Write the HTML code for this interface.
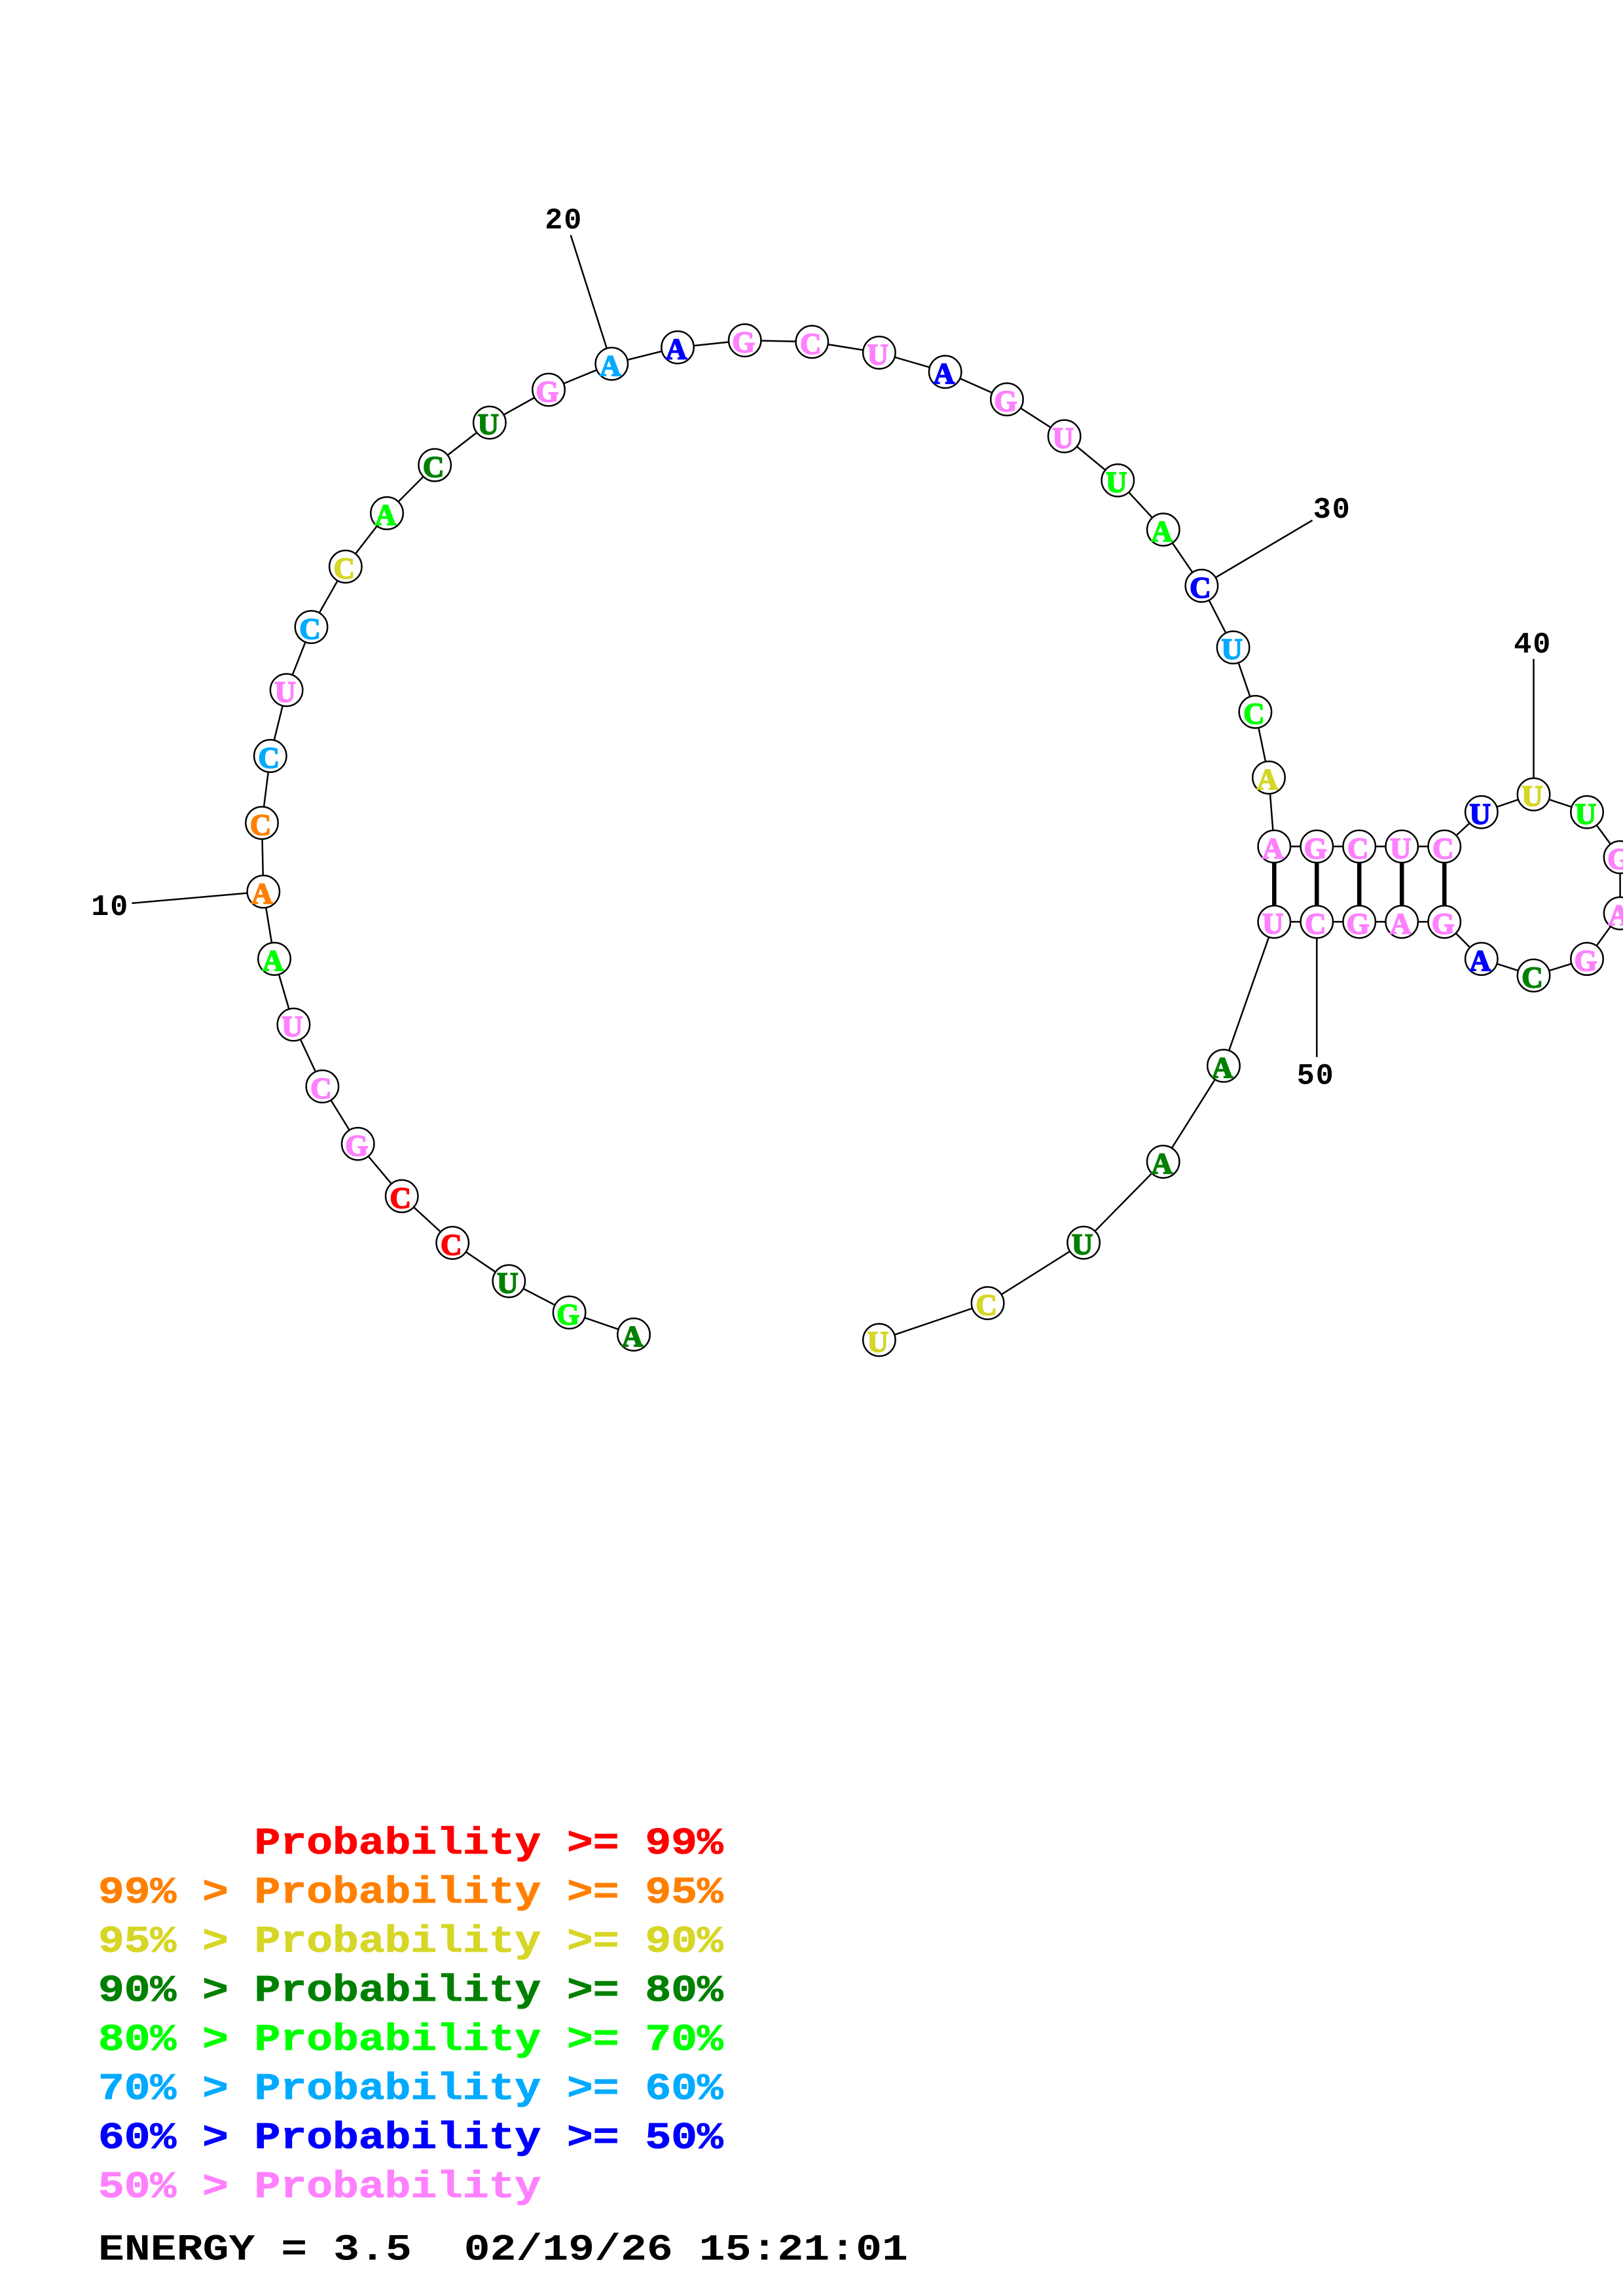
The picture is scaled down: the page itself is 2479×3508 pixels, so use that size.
<!DOCTYPE html>
<html><head><meta charset="utf-8"><style>
html,body{margin:0;padding:0;background:#fff;width:2479px;height:3508px;overflow:hidden}
svg{display:block}
.n circle{fill:#fff;stroke:#000;stroke-width:2.5}
.n text{font:bold 45px "Liberation Serif",serif;text-anchor:middle;stroke-width:1.8;paint-order:stroke}
.l{font:bold 45px "Liberation Mono",monospace;text-anchor:middle;fill:#000;letter-spacing:2px}
.g{font:bold 66.3px "Liberation Mono",monospace;white-space:pre}
.k{fill:#008000;stroke:#008000}.g1{fill:#0f0;stroke:#0f0}.r{fill:#f00;stroke:#f00}.p{fill:#ff80ff;stroke:#ff80ff}
.o{fill:#ff8000;stroke:#ff8000}.s{fill:#00aaff;stroke:#00aaff}.y{fill:#d6d626;stroke:#d6d626}.b{fill:#00f;stroke:#00f}
.g.k,.g.g1,.g.r,.g.p,.g.o,.g.s,.g.y,.g.b{stroke-width:1}
</style></head><body>
<svg xmlns="http://www.w3.org/2000/svg" width="2479" height="3508" viewBox="0 0 2479 3508">
<rect width="2479" height="3508" fill="#fff"/>
<polyline fill="none" stroke="#000" stroke-width="2.5" points="968,2039 869.6,2005.3 777.3,1957.4 691.2,1898.9 613.7,1827.6 546.7,1747.7 492.4,1659.9 448.4,1565.5 419,1465 402.3,1362.3 400,1257.3 412.8,1155 437.6,1054.3 475.5,958 527.8,865.7 591,784.1 664.1,710.6 747.8,645.7 838,595.5 934.3,555.8 1035,530.7 1137.7,520 1240.3,522.3 1342.9,538.8 1443.7,568.2 1538,610.2 1625.7,666.5 1707.3,733.9 1776.8,809.2 1835.4,895 1883.6,989.2 1917.4,1087.7 1938,1188 1946.3,1293.3 2011.3,1293.3 2076.2,1293.3 2141.2,1293.3 2206.2,1293.3 2262.8,1240.8 2342.5,1213.7 2424,1240.8 2474.6,1309.7 2474.6,1395.4 2424,1465.1 2342.5,1490.4 2262.8,1465.1 2206.2,1408.4 2141.2,1408.4 2076.2,1408.4 2011.3,1408.4 1946.3,1408.4 1869,1628.4 1776.7,1775 1655.1,1898.7 1508.6,1991 1342.9,2047.3"/>
<g stroke="#000" stroke-width="2.5">
<line x1="201.3" y1="1380" x2="402.3" y2="1362.3"/>
<line x1="871.7" y1="359.3" x2="934.3" y2="555.8"/>
<line x1="2004.5" y1="795" x2="1835.4" y2="895"/>
<line x1="2342.5" y1="1006.7" x2="2342.5" y2="1213.7"/>
<line x1="2011.3" y1="1615" x2="2011.3" y2="1408.4"/>
</g>
<g stroke="#000" stroke-width="6.5">
<line x1="1946.3" y1="1293.3" x2="1946.3" y2="1408.4"/>
<line x1="2011.3" y1="1293.3" x2="2011.3" y2="1408.4"/>
<line x1="2076.2" y1="1293.3" x2="2076.2" y2="1408.4"/>
<line x1="2141.2" y1="1293.3" x2="2141.2" y2="1408.4"/>
<line x1="2206.2" y1="1293.3" x2="2206.2" y2="1408.4"/>
</g>
<g class="n">
<circle cx="968" cy="2039" r="24.7"/><text class="k" x="966" y="2057">A</text>
<circle cx="869.6" cy="2005.3" r="24.7"/><text class="g1" x="867.6" y="2023.3">G</text>
<circle cx="777.3" cy="1957.4" r="24.7"/><text class="k" x="775.3" y="1975.4">U</text>
<circle cx="691.2" cy="1898.9" r="24.7"/><text class="r" x="689.2" y="1916.9">C</text>
<circle cx="613.7" cy="1827.6" r="24.7"/><text class="r" x="611.7" y="1845.6">C</text>
<circle cx="546.7" cy="1747.7" r="24.7"/><text class="p" x="544.7" y="1765.7">G</text>
<circle cx="492.4" cy="1659.9" r="24.7"/><text class="p" x="490.4" y="1677.9">C</text>
<circle cx="448.4" cy="1565.5" r="24.7"/><text class="p" x="446.4" y="1583.5">U</text>
<circle cx="419" cy="1465" r="24.7"/><text class="g1" x="417" y="1483">A</text>
<circle cx="402.3" cy="1362.3" r="24.7"/><text class="o" x="400.3" y="1380.3">A</text>
<circle cx="400" cy="1257.3" r="24.7"/><text class="o" x="398" y="1275.3">C</text>
<circle cx="412.8" cy="1155" r="24.7"/><text class="s" x="410.8" y="1173">C</text>
<circle cx="437.6" cy="1054.3" r="24.7"/><text class="p" x="435.6" y="1072.3">U</text>
<circle cx="475.5" cy="958" r="24.7"/><text class="s" x="473.5" y="976">C</text>
<circle cx="527.8" cy="865.7" r="24.7"/><text class="y" x="525.8" y="883.7">C</text>
<circle cx="591" cy="784.1" r="24.7"/><text class="g1" x="589" y="802.1">A</text>
<circle cx="664.1" cy="710.6" r="24.7"/><text class="k" x="662.1" y="728.6">C</text>
<circle cx="747.8" cy="645.7" r="24.7"/><text class="k" x="745.8" y="663.7">U</text>
<circle cx="838" cy="595.5" r="24.7"/><text class="p" x="836" y="613.5">G</text>
<circle cx="934.3" cy="555.8" r="24.7"/><text class="s" x="932.3" y="573.8">A</text>
<circle cx="1035" cy="530.7" r="24.7"/><text class="b" x="1033" y="548.7">A</text>
<circle cx="1137.7" cy="520" r="24.7"/><text class="p" x="1135.7" y="538">G</text>
<circle cx="1240.3" cy="522.3" r="24.7"/><text class="p" x="1238.3" y="540.3">C</text>
<circle cx="1342.9" cy="538.8" r="24.7"/><text class="p" x="1340.9" y="556.8">U</text>
<circle cx="1443.7" cy="568.2" r="24.7"/><text class="b" x="1441.7" y="586.2">A</text>
<circle cx="1538" cy="610.2" r="24.7"/><text class="p" x="1536" y="628.2">G</text>
<circle cx="1625.7" cy="666.5" r="24.7"/><text class="p" x="1623.7" y="684.5">U</text>
<circle cx="1707.3" cy="733.9" r="24.7"/><text class="g1" x="1705.3" y="751.9">U</text>
<circle cx="1776.8" cy="809.2" r="24.7"/><text class="g1" x="1774.8" y="827.2">A</text>
<circle cx="1835.4" cy="895" r="24.7"/><text class="b" x="1833.4" y="913">C</text>
<circle cx="1883.6" cy="989.2" r="24.7"/><text class="s" x="1881.6" y="1007.2">U</text>
<circle cx="1917.4" cy="1087.7" r="24.7"/><text class="g1" x="1915.4" y="1105.7">C</text>
<circle cx="1938" cy="1188" r="24.7"/><text class="y" x="1936" y="1206">A</text>
<circle cx="1946.3" cy="1293.3" r="24.7"/><text class="p" x="1944.3" y="1311.3">A</text>
<circle cx="2011.3" cy="1293.3" r="24.7"/><text class="p" x="2009.3" y="1311.3">G</text>
<circle cx="2076.2" cy="1293.3" r="24.7"/><text class="p" x="2074.2" y="1311.3">C</text>
<circle cx="2141.2" cy="1293.3" r="24.7"/><text class="p" x="2139.2" y="1311.3">U</text>
<circle cx="2206.2" cy="1293.3" r="24.7"/><text class="p" x="2204.2" y="1311.3">C</text>
<circle cx="2262.8" cy="1240.8" r="24.7"/><text class="b" x="2260.8" y="1258.8">U</text>
<circle cx="2342.5" cy="1213.7" r="24.7"/><text class="y" x="2340.5" y="1231.7">U</text>
<circle cx="2424" cy="1240.8" r="24.7"/><text class="g1" x="2422" y="1258.8">U</text>
<circle cx="2474.6" cy="1309.7" r="24.7"/><text class="p" x="2472.6" y="1327.7">G</text>
<circle cx="2474.6" cy="1395.4" r="24.7"/><text class="p" x="2472.6" y="1413.4">A</text>
<circle cx="2424" cy="1465.1" r="24.7"/><text class="p" x="2422" y="1483.1">G</text>
<circle cx="2342.5" cy="1490.4" r="24.7"/><text class="k" x="2340.5" y="1508.4">C</text>
<circle cx="2262.8" cy="1465.1" r="24.7"/><text class="b" x="2260.8" y="1483.1">A</text>
<circle cx="2206.2" cy="1408.4" r="24.7"/><text class="p" x="2204.2" y="1426.4">G</text>
<circle cx="2141.2" cy="1408.4" r="24.7"/><text class="p" x="2139.2" y="1426.4">A</text>
<circle cx="2076.2" cy="1408.4" r="24.7"/><text class="p" x="2074.2" y="1426.4">G</text>
<circle cx="2011.3" cy="1408.4" r="24.7"/><text class="p" x="2009.3" y="1426.4">C</text>
<circle cx="1946.3" cy="1408.4" r="24.7"/><text class="p" x="1944.3" y="1426.4">U</text>
<circle cx="1869" cy="1628.4" r="24.7"/><text class="k" x="1867" y="1646.4">A</text>
<circle cx="1776.7" cy="1775" r="24.7"/><text class="k" x="1774.7" y="1793">A</text>
<circle cx="1655.1" cy="1898.7" r="24.7"/><text class="k" x="1653.1" y="1916.7">U</text>
<circle cx="1508.6" cy="1991" r="24.7"/><text class="y" x="1506.6" y="2009">C</text>
<circle cx="1342.9" cy="2047.3" r="24.7"/><text class="y" x="1340.9" y="2065.3">U</text>
</g>
<text class="l" x="168.3" y="1398">10</text>
<text class="l" x="861.3" y="349">20</text>
<text class="l" x="2034.8" y="791">30</text>
<text class="l" x="2341.3" y="997">40</text>
<text class="l" x="2009.7" y="1656">50</text>
<g>
<text class="g r"  transform="translate(150,2832) scale(1,.87)">      Probability &gt;= 99%</text>
<text class="g o"  transform="translate(150,2907) scale(1,.87)">99% &gt; Probability &gt;= 95%</text>
<text class="g y"  transform="translate(150,2982) scale(1,.87)">95% &gt; Probability &gt;= 90%</text>
<text class="g k"  transform="translate(150,3057) scale(1,.87)">90% &gt; Probability &gt;= 80%</text>
<text class="g g1" transform="translate(150,3132) scale(1,.87)">80% &gt; Probability &gt;= 70%</text>
<text class="g s"  transform="translate(150,3207) scale(1,.87)">70% &gt; Probability &gt;= 60%</text>
<text class="g b"  transform="translate(150,3282) scale(1,.87)">60% &gt; Probability &gt;= 50%</text>
<text class="g p"  transform="translate(150,3357) scale(1,.87)">50% &gt; Probability</text>
<text class="g" fill="#000" style="font-size:66.5px" transform="translate(150,3452.5) scale(1,.85)">ENERGY = 3.5  02/19/26 15:21:01</text>
</g>
</svg>
</body></html>
